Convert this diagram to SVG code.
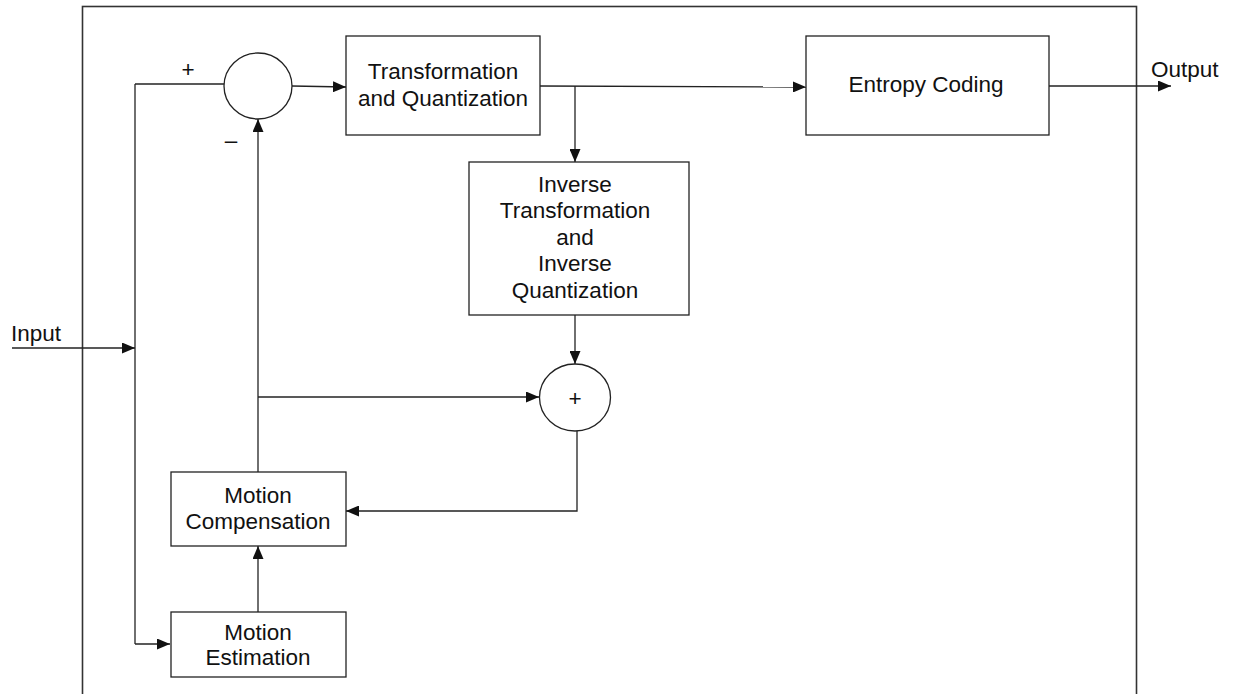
<svg xmlns="http://www.w3.org/2000/svg" width="1233" height="694" viewBox="0 0 1233 694">
  <style>
    .frame { fill: none; stroke: #333; stroke-width: 1.6; }
    .box { fill: #fff; stroke: #222; stroke-width: 1.3; }
    .sum { fill: #fff; stroke: #222; stroke-width: 1.3; }
    .wire { fill: none; stroke: #222; stroke-width: 1.3; }
    .lbl { font-family: "Liberation Sans", Arial, sans-serif; font-size: 22.5px; fill: #111; }
    .mid { text-anchor: middle; }
  </style>
  <defs>
    <marker id="arrow" markerUnits="userSpaceOnUse" markerWidth="13" markerHeight="11" refX="13" refY="5.5" orient="auto">
      <path d="M0,0 L13,5.5 L0,11 z" fill="#111"/>
    </marker>
  </defs>

  <rect class="frame" x="82.5" y="6.5" width="1054" height="700"/>

  <!-- signal paths -->
  <g id="connectors">
    <line class="wire" x1="12" y1="348" x2="135" y2="348" marker-end="url(#arrow)"/>
    <line class="wire" x1="135" y1="84" x2="135" y2="644"/>
    <line class="wire" x1="135" y1="84" x2="224" y2="84"/>
    <line class="wire" x1="135" y1="644" x2="170" y2="644" marker-end="url(#arrow)"/>
    <line class="wire" x1="292" y1="86" x2="346" y2="87" marker-end="url(#arrow)"/>
    <line class="wire" x1="540" y1="86" x2="806" y2="87" marker-end="url(#arrow)"/>
    <line class="wire" x1="575" y1="86" x2="575" y2="162" marker-end="url(#arrow)"/>
    <line class="wire" x1="575" y1="315" x2="575" y2="364" marker-end="url(#arrow)"/>
    <line class="wire" x1="1049" y1="86" x2="1171" y2="86" marker-end="url(#arrow)"/>
    <line class="wire" x1="258" y1="472" x2="258" y2="119" marker-end="url(#arrow)"/>
    <line class="wire" x1="258" y1="397" x2="539" y2="397" marker-end="url(#arrow)"/>
    <polyline class="wire" points="577,431 577,511 346,511" marker-end="url(#arrow)"/>
    <line class="wire" x1="258" y1="612" x2="258" y2="546" marker-end="url(#arrow)"/>
  </g>

  <g id="input-label">
    <text class="lbl" x="11" y="341">Input</text>
  </g>
  <g id="output-label">
    <text class="lbl" x="1151" y="77">Output</text>
  </g>

  <g id="sum-top">
    <ellipse class="sum" cx="258" cy="86" rx="34" ry="33"/>
    <text class="lbl mid" x="188" y="76.5">+</text>
    <text class="lbl mid" x="231" y="148">–</text>
  </g>

  <g id="transform-quant">
    <rect class="box" x="346" y="36" width="194" height="99"/>
    <text class="lbl mid" x="443" y="79">Transformation</text>
    <text class="lbl mid" x="443" y="106">and Quantization</text>
  </g>

  <g id="entropy-coding">
    <rect class="box" x="806" y="36" width="243" height="99"/>
    <text class="lbl mid" x="926" y="92">Entropy Coding</text>
  </g>

  <g id="inverse-transform-quant">
    <rect class="box" x="469" y="162" width="220" height="153"/>
    <text class="lbl mid" x="575" y="192">Inverse</text>
    <text class="lbl mid" x="575" y="218">Transformation</text>
    <text class="lbl mid" x="575" y="244.5">and</text>
    <text class="lbl mid" x="575" y="271">Inverse</text>
    <text class="lbl mid" x="575" y="297.5">Quantization</text>
  </g>

  <g id="sum-recon">
    <ellipse class="sum" cx="575" cy="397.5" rx="35.5" ry="33.5"/>
    <text class="lbl mid" x="575" y="406">+</text>
  </g>

  <g id="motion-compensation">
    <rect class="box" x="171" y="472" width="175" height="74"/>
    <text class="lbl mid" x="258" y="503">Motion</text>
    <text class="lbl mid" x="258" y="529">Compensation</text>
  </g>

  <g id="motion-estimation">
    <rect class="box" x="171" y="612" width="175" height="65"/>
    <text class="lbl mid" x="258" y="640">Motion</text>
    <text class="lbl mid" x="258" y="665">Estimation</text>
  </g>
</svg>
